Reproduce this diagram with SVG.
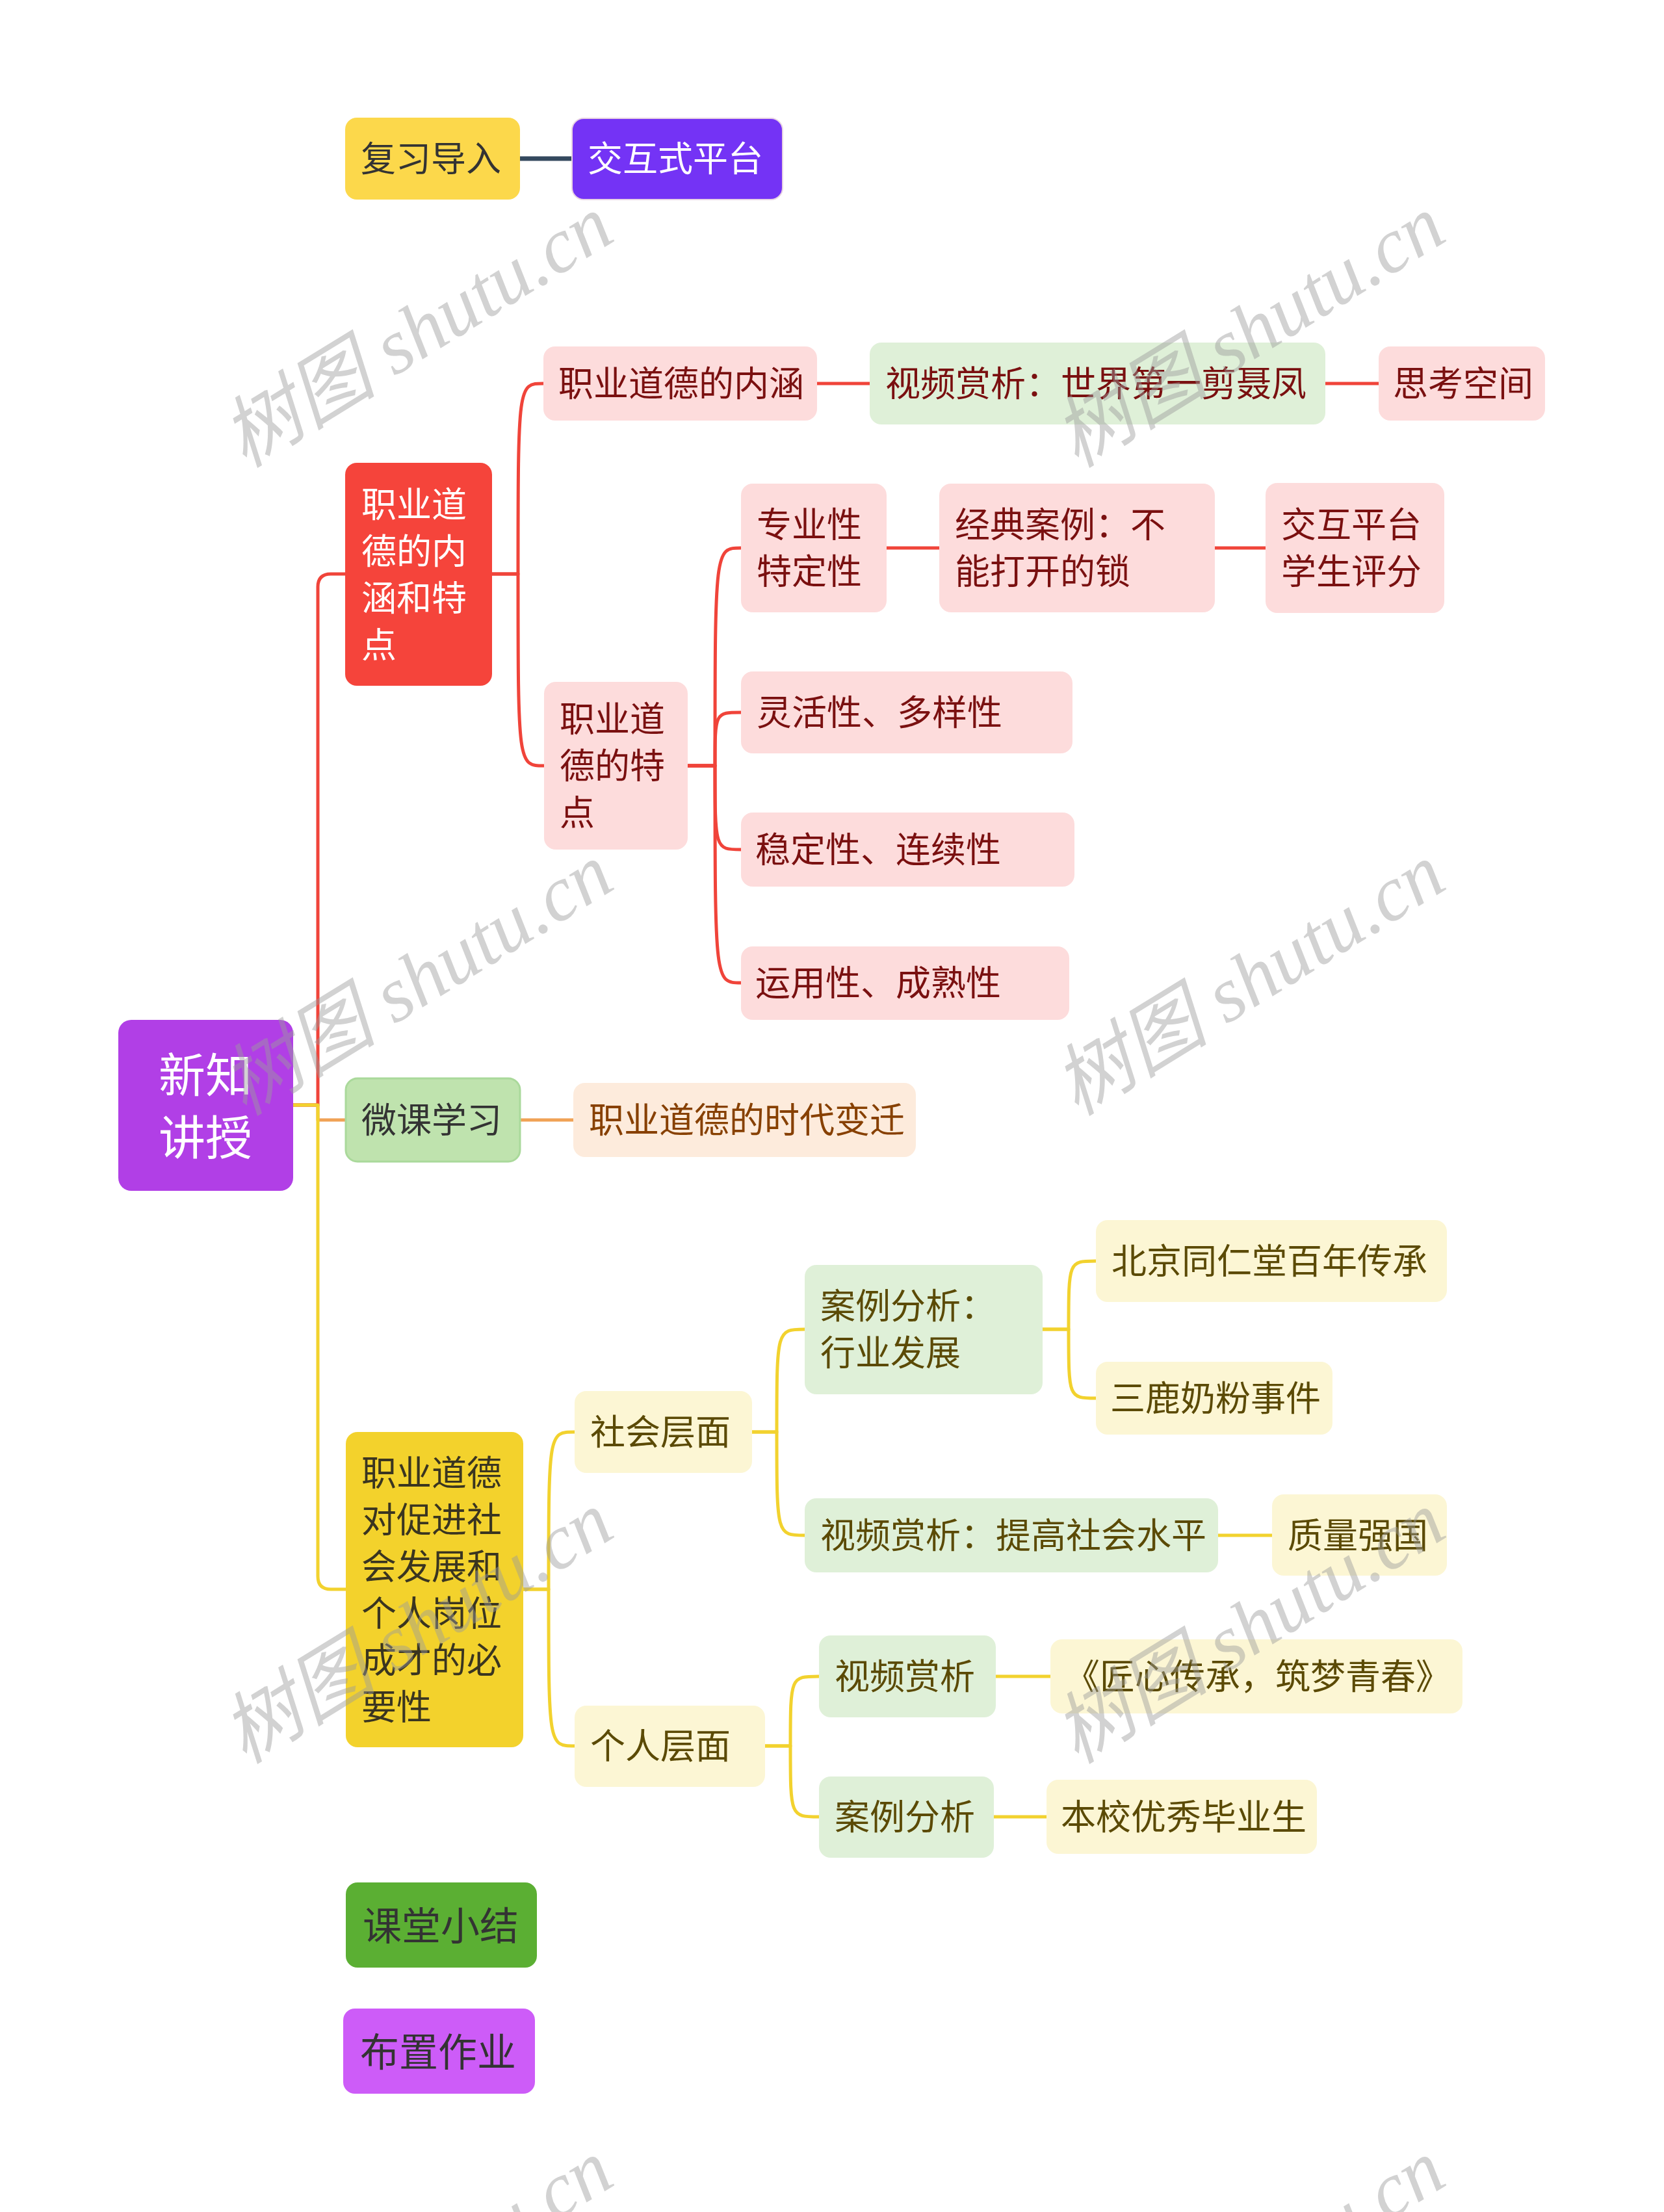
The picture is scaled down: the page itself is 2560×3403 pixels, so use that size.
<svg xmlns="http://www.w3.org/2000/svg" width="2560" height="3403" viewBox="0 0 2560 3403">
<style>
.t{font-family:"Noto Sans CJK SC","Noto Sans",sans-serif;font-size:54px;dominant-baseline:central;transform:translate(0px,-4px)}
.big{font-size:72px}
.mid{font-size:60px}
.red{fill:#7A1010}
.olive{fill:#5B4A05}
.dark{fill:#333333}
.white{fill:#FFFFFF}
.pink{fill:#FDDCDC}
.lgreen{fill:#DFF0D8}
.cream{fill:#FCF6D4}
.c{fill:none;stroke-width:5;stroke-linecap:round;stroke-linejoin:round}
.cr{stroke:#F0443A}
.cy{stroke:#F2D22E}
.co{stroke:#F0A255}
.cd{stroke:#34495E;stroke-width:7}
.wm{font-family:"Liberation Serif","Noto Sans CJK SC",serif;font-style:italic;font-size:120px;fill:#9C9C9C;opacity:0.45;dominant-baseline:central;text-anchor:middle}
</style>
<rect width="2560" height="3403" fill="#FFFFFF"/>

<g id="connectors">
  <path class="c cd" d="M800,244 H880"/>
  <path class="c co" d="M451,1700 H489 V1723 H532"/>
  <path class="c co" d="M800,1723 H882"/>
  <path class="c cr" d="M451,1700 H489 V903 Q489,883 509,883 H531"/>
  <path class="c cy" d="M451,1700 H489 V2425 Q489,2445 509,2445 H532"/>
  <path class="c cr" d="M757,883 H797 C797,590 797,590 836,590"/>
  <path class="c cr" d="M757,883 H797 C797,1178 797,1178 837,1178"/>
  <path class="c cr" d="M1257,590 H1338"/>
  <path class="c cr" d="M2039,590 H2121"/>
  <path class="c cr" d="M1058,1178 H1100 C1100,843 1100,843 1140,843"/>
  <path class="c cr" d="M1058,1178 H1100 C1100,1096 1100,1096 1140,1096"/>
  <path class="c cr" d="M1058,1178 H1100 C1100,1307 1100,1307 1140,1307"/>
  <path class="c cr" d="M1058,1178 H1100 C1100,1512 1100,1512 1140,1512"/>
  <path class="c cr" d="M1364,843 H1445"/>
  <path class="c cr" d="M1869,843 H1947"/>
  <path class="c cy" d="M805,2445 H844 C844,2203 844,2203 884,2203"/>
  <path class="c cy" d="M805,2445 H844 C844,2686 844,2686 884,2686"/>
  <path class="c cy" d="M1157,2203 H1195 C1195,2045 1195,2045 1238,2045"/>
  <path class="c cy" d="M1157,2203 H1195 C1195,2362 1195,2362 1238,2362"/>
  <path class="c cy" d="M1604,2045 H1644 C1644,1940 1644,1940 1686,1940"/>
  <path class="c cy" d="M1604,2045 H1644 C1644,2151 1644,2151 1686,2151"/>
  <path class="c cy" d="M1874,2362 H1957"/>
  <path class="c cy" d="M1177,2686 H1216 C1216,2579 1216,2579 1260,2579"/>
  <path class="c cy" d="M1177,2686 H1216 C1216,2795 1216,2795 1260,2795"/>
  <path class="c cy" d="M1532,2579 H1616"/>
  <path class="c cy" d="M1529,2795 H1610"/>
</g>

<g id="n-fuxi"><rect x="531" y="181" width="269" height="126" rx="18" fill="#FCD84B"/><text class="t dark" x="555" y="244">复习导入</text></g>
<g id="n-jiaohushi"><rect x="880" y="182" width="324" height="125" rx="18" fill="#7433F5" stroke="#E8D3E3" stroke-width="2"/><text class="t white" x="904" y="244">交互式平台</text></g>

<g id="n-root"><rect x="182" y="1569" width="269" height="263" rx="20" fill="#B13FE6"/>
<text class="t big white" x="316" y="1652" text-anchor="middle">新知</text><text class="t big white" x="316" y="1748" text-anchor="middle">讲授</text></g>

<g id="n-neihan-tedian"><rect x="531" y="712" width="226" height="343" rx="18" fill="#F5443B"/>
<text class="t white" x="556"><tspan x="556" y="776">职业道</tspan><tspan x="556" y="848">德的内</tspan><tspan x="556" y="920">涵和特</tspan><tspan x="556" y="992">点</tspan></text></g>
<g id="n-neihan"><rect class="pink" x="836" y="533" width="421" height="114" rx="18"/><text class="t red" x="859" y="590">职业道德的内涵</text></g>
<g id="n-shipin1"><rect class="lgreen" x="1338" y="527" width="701" height="126" rx="18"/><text class="t red" x="1362" y="590">视频赏析：世界第一剪聂凤</text></g>
<g id="n-sikao"><rect class="pink" x="2121" y="533" width="256" height="114" rx="18"/><text class="t red" x="2143" y="590">思考空间</text></g>
<g id="n-tedian"><rect class="pink" x="837" y="1049" width="221" height="258" rx="18"/>
<text class="t red"><tspan x="861" y="1106">职业道</tspan><tspan x="861" y="1178">德的特</tspan><tspan x="861" y="1250">点</tspan></text></g>
<g id="n-zhuanye"><rect class="pink" x="1140" y="744" width="224" height="198" rx="18"/>
<text class="t red"><tspan x="1164" y="807">专业性</tspan><tspan x="1164" y="879">特定性</tspan></text></g>
<g id="n-jingdian"><rect class="pink" x="1445" y="744" width="424" height="198" rx="18"/>
<text class="t red"><tspan x="1469" y="807">经典案例：不</tspan><tspan x="1469" y="879">能打开的锁</tspan></text></g>
<g id="n-jiaohu"><rect class="pink" x="1947" y="743" width="275" height="200" rx="18"/>
<text class="t red"><tspan x="1971" y="807">交互平台</tspan><tspan x="1971" y="879">学生评分</tspan></text></g>
<g id="n-linghuo"><rect class="pink" x="1140" y="1033" width="510" height="126" rx="18"/><text class="t red" x="1164" y="1096">灵活性、多样性</text></g>
<g id="n-wending"><rect class="pink" x="1140" y="1250" width="513" height="114" rx="18"/><text class="t red" x="1162" y="1307">稳定性、连续性</text></g>
<g id="n-yunyong"><rect class="pink" x="1140" y="1456" width="505" height="113" rx="18"/><text class="t red" x="1162" y="1512">运用性、成熟性</text></g>

<g id="n-weike"><rect x="532" y="1659" width="268" height="128" rx="18" fill="#BFE3AE" stroke="#AAD99B" stroke-width="3"/><text class="t dark" x="556" y="1723">微课学习</text></g>
<g id="n-shidai"><rect x="882" y="1666" width="527" height="114" rx="18" fill="#FDEBDC"/><text class="t" fill="#874000" x="906" y="1723">职业道德的时代变迁</text></g>

<g id="n-biyaoxing"><rect x="532" y="2203" width="273" height="485" rx="18" fill="#F3D22C"/>
<text class="t" fill="#3A3520"><tspan x="556" y="2266">职业道德</tspan><tspan x="556" y="2338">对促进社</tspan><tspan x="556" y="2410">会发展和</tspan><tspan x="556" y="2482">个人岗位</tspan><tspan x="556" y="2554">成才的必</tspan><tspan x="556" y="2626">要性</tspan></text></g>
<g id="n-shehui"><rect class="cream" x="884" y="2140" width="273" height="126" rx="18"/><text class="t olive" x="908" y="2203">社会层面</text></g>
<g id="n-geren"><rect class="cream" x="884" y="2624" width="293" height="125" rx="18"/><text class="t olive" x="908" y="2686">个人层面</text></g>
<g id="n-anli1"><rect class="lgreen" x="1238" y="1946" width="366" height="199" rx="18"/>
<text class="t olive"><tspan x="1262" y="2009">案例分析：</tspan><tspan x="1262" y="2081">行业发展</tspan></text></g>
<g id="n-shipin2"><rect class="lgreen" x="1238" y="2305" width="636" height="114" rx="18"/><text class="t olive" x="1262" y="2362">视频赏析：提高社会水平</text></g>
<g id="n-beijing"><rect class="cream" x="1686" y="1877" width="540" height="126" rx="18"/><text class="t olive" x="1710" y="1940">北京同仁堂百年传承</text></g>
<g id="n-sanlu"><rect class="cream" x="1686" y="2095" width="364" height="112" rx="18"/><text class="t olive" x="1708" y="2151">三鹿奶粉事件</text></g>
<g id="n-zhiliang"><rect class="cream" x="1957" y="2299" width="269" height="125" rx="18"/><text class="t olive" x="1981" y="2362">质量强国</text></g>
<g id="n-shipin3"><rect class="lgreen" x="1260" y="2516" width="272" height="126" rx="18"/><text class="t olive" x="1284" y="2579">视频赏析</text></g>
<g id="n-jiangxin"><rect class="cream" x="1616" y="2522" width="634" height="114" rx="18"/><text class="t olive" x="1638" y="2579">《匠心传承，筑梦青春》</text></g>
<g id="n-anli2"><rect class="lgreen" x="1260" y="2733" width="269" height="125" rx="18"/><text class="t olive" x="1284" y="2795">案例分析</text></g>
<g id="n-benxiao"><rect class="cream" x="1610" y="2738" width="416" height="114" rx="18"/><text class="t olive" x="1632" y="2795">本校优秀毕业生</text></g>

<g id="n-ketang"><rect x="532" y="2896" width="294" height="131" rx="18" fill="#5BAF33"/><text class="t mid dark" x="558" y="2962">课堂小结</text></g>
<g id="n-buzhi"><rect x="528" y="3090" width="295" height="131" rx="18" fill="#CD5CF8"/><text class="t mid dark" x="554" y="3156">布置作业</text></g>

<g id="watermarks">
  <text class="wm" transform="translate(642,510) rotate(-31.6)">树图 shutu.cn</text>
  <text class="wm" transform="translate(1922,510) rotate(-31.6)">树图 shutu.cn</text>
  <text class="wm" transform="translate(642,1507) rotate(-31.6)">树图 shutu.cn</text>
  <text class="wm" transform="translate(1922,1507) rotate(-31.6)">树图 shutu.cn</text>
  <text class="wm" transform="translate(642,2504) rotate(-31.6)">树图 shutu.cn</text>
  <text class="wm" transform="translate(1922,2504) rotate(-31.6)">树图 shutu.cn</text>
  <text class="wm" transform="translate(642,3501) rotate(-31.6)">树图 shutu.cn</text>
  <text class="wm" transform="translate(1922,3501) rotate(-31.6)">树图 shutu.cn</text>
</g>
</svg>
